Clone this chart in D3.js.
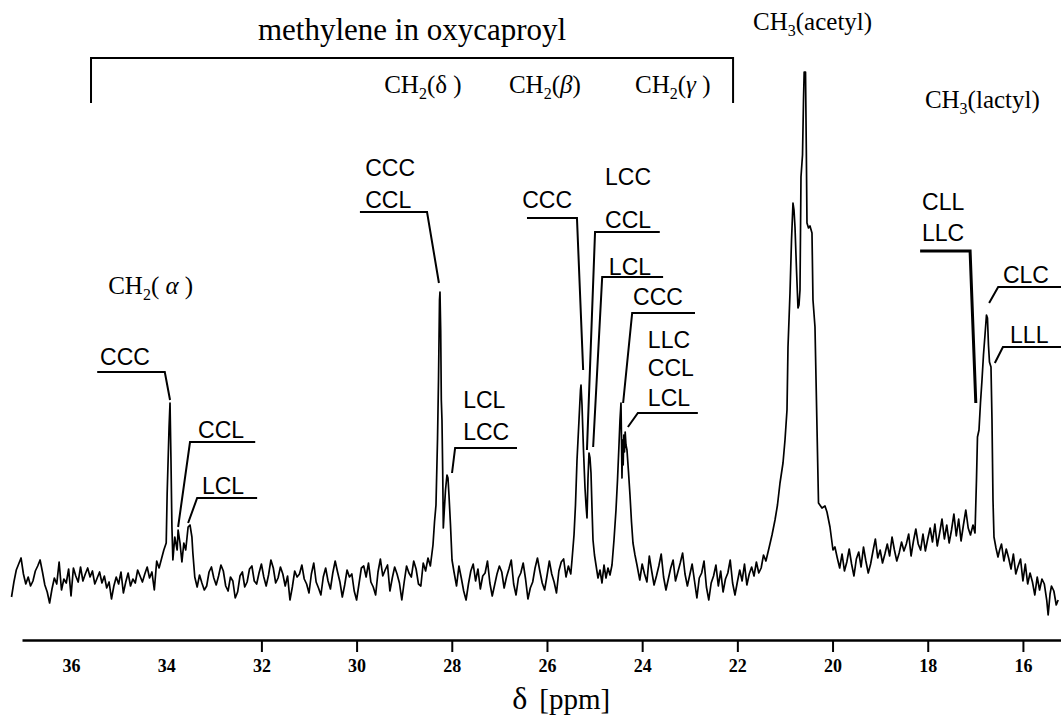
<!DOCTYPE html>
<html>
<head>
<meta charset="utf-8">
<script src="https://cdn.jsdelivr.net/npm/d3@7"></script>
<style>
  body { margin: 0; background: #fff; }
  svg { display: block; }
</style>
</head>
<body>
<svg id="chart" width="1061" height="718"></svg>
<script>
// tick labels on the shift axis (36 and 34 carry no tick mark in the source)
var tickValues = [36, 34, 32, 30, 28, 26, 24, 22, 20, 18, 16];
var tickMarks = [32, 30, 28, 26, 24, 22, 20, 18, 16];

// 13C spectrum: [shift (ppm), intensity (a.u.)]
var spectrum = [
  [37.25, -17], [37.20, -2], [37.15, 10], [37.10, 16], [37.05, 22], [37.00, 6], [36.95, -4], [36.90, 3],
  [36.85, -6], [36.80, -1], [36.75, 9], [36.70, 14], [36.65, 20], [36.60, 8], [36.55, -5], [36.50, -12],
  [36.45, -23], [36.40, -9], [36.35, 2], [36.30, -4], [36.25, 18], [36.20, -10], [36.15, 1], [36.10, -3],
  [36.05, 11], [36.00, -16], [35.95, 12], [35.90, 4], [35.85, -2], [35.80, 13], [35.75, -1], [35.70, 6],
  [35.65, 12], [35.60, 3], [35.55, 9], [35.50, -4], [35.45, 2], [35.40, 8], [35.35, -3], [35.30, 4],
  [35.25, -8], [35.20, -2], [35.15, -19], [35.10, -6], [35.05, 3], [35.00, -4], [34.95, 8], [34.90, -13],
  [34.85, -2], [34.80, 7], [34.75, -6], [34.70, 1], [34.65, -3], [34.60, 10], [34.55, 4], [34.50, -2],
  [34.45, 6], [34.40, 13], [34.35, 2], [34.30, 8], [34.25, -10], [34.20, 19], [34.15, 12], [34.10, 21],
  [34.05, 30], [34.00, 37],
  // CH2(alpha)
  [33.98, 87], [33.94, 153], [33.92, 177], [33.90, 120], [33.88, 53], [33.86, 20], [33.82, 43], [33.77, 30],
  [33.75, 50], [33.71, 37], [33.67, 18], [33.63, 37], [33.59, 30], [33.54, 53], [33.50, 55], [33.46, 43],
  [33.44, 27], [33.40, 3], [33.35, -7],
  [33.30, 5], [33.25, -3], [33.20, -10], [33.15, -6], [33.10, 8], [33.05, 13], [33.00, 2], [32.95, -5],
  [32.90, 4], [32.85, 15], [32.80, 9], [32.75, -6], [32.70, -11], [32.65, 3], [32.60, -1], [32.55, -18],
  [32.50, -12], [32.45, 4], [32.40, 8], [32.35, -7], [32.30, -2], [32.25, 11], [32.20, 14], [32.15, -1],
  [32.10, -4], [32.05, 7], [32.00, 16], [31.95, 3], [31.90, -6], [31.85, 5], [31.80, 20], [31.75, 12],
  [31.70, -3], [31.65, 2], [31.60, 13], [31.55, 6], [31.50, -6], [31.45, 4], [31.40, -20], [31.35, -7],
  [31.30, 9], [31.25, 3], [31.20, 6], [31.15, 15], [31.10, 1], [31.05, -4], [31.00, -13], [30.95, 6],
  [30.90, 17], [30.85, -2], [30.80, -8], [30.75, -15], [30.70, 3], [30.65, 12], [30.60, -1], [30.55, -9],
  [30.50, 7], [30.45, 19], [30.40, 8], [30.35, -2], [30.30, -17], [30.25, -5], [30.20, 10], [30.15, 3],
  [30.10, 6], [30.05, -11], [30.00, -20], [29.95, -4], [29.90, 12], [29.85, 14], [29.80, 3], [29.75, 17],
  [29.70, -2], [29.65, -7], [29.60, -15], [29.55, 8], [29.50, 21], [29.45, 4], [29.40, 10], [29.35, 15],
  [29.30, -11], [29.25, 2], [29.20, 13], [29.15, 6], [29.10, -3], [29.05, -20], [29.00, -2], [28.95, 14],
  [28.90, 7], [28.85, 3], [28.80, 19], [28.75, 11], [28.70, -4], [28.65, -6], [28.60, 17], [28.55, 9],
  [28.50, 22], [28.45, 14],
  // CH2(delta)
  [28.395, 35], [28.363, 58], [28.332, 75], [28.300, 140], [28.279, 200], [28.258, 280], [28.248, 288],
  [28.233, 250], [28.220, 180], [28.206, 160], [28.191, 110], [28.178, 52], [28.157, 70], [28.132, 90],
  [28.101, 105], [28.080, 102], [28.059, 85], [28.027, 55], [27.995, 20], [27.953, 8],
  [27.90, -6], [27.85, 14], [27.80, 2], [27.75, -11], [27.70, -20], [27.65, -4], [27.60, 9], [27.55, 16],
  [27.50, -1], [27.45, 11], [27.40, -9], [27.35, 4], [27.30, 7], [27.25, 19], [27.20, -3], [27.15, -16],
  [27.10, -5], [27.05, 6], [27.00, 14], [26.95, 8], [26.90, -8], [26.85, 3], [26.80, 11], [26.75, 20],
  [26.70, -4], [26.65, -15], [26.60, 2], [26.55, 7], [26.50, 17], [26.45, 1], [26.40, -19], [26.35, -8],
  [26.30, -2], [26.25, 12], [26.20, 22], [26.15, 9], [26.10, -3], [26.05, -10], [26.00, 4], [25.95, 19],
  [25.90, 6], [25.85, -2], [25.80, -13], [25.75, 9], [25.70, 18], [25.65, 21], [25.60, 3], [25.55, 14],
  [25.50, 6],
  // CH2(beta)
  [25.474, 20], [25.432, 45], [25.401, 75], [25.369, 120], [25.327, 160], [25.296, 190], [25.285, 195],
  [25.264, 175], [25.233, 130], [25.201, 92], [25.180, 75], [25.159, 62], [25.138, 102], [25.117, 127],
  [25.096, 122], [25.075, 107], [25.054, 72], [25.033, 40], [25.002, 25], [24.970, 15], [24.928, 2],
  [24.886, 10], [24.844, -3], [24.802, 15], [24.760, 2], [24.718, 12], [24.676, 5],
  // CH2(gamma)
  [24.634, 15], [24.592, 40], [24.550, 70], [24.518, 100], [24.487, 135], [24.466, 160], [24.445, 177],
  [24.434, 140], [24.424, 102], [24.411, 140], [24.399, 115], [24.386, 145], [24.371, 128], [24.357, 148],
  [24.340, 135], [24.319, 130], [24.287, 108], [24.256, 85], [24.224, 58], [24.193, 37], [24.151, 25],
  [24.109, 15],
  [24.05, 0], [24.00, 16], [23.95, 6], [23.90, -2], [23.85, 24], [23.80, 9], [23.75, -5], [23.70, 4],
  [23.65, 14], [23.60, 26], [23.55, 3], [23.50, -10], [23.45, 1], [23.40, 12], [23.35, 20], [23.30, -1],
  [23.25, 8], [23.20, 17], [23.15, 27], [23.10, 6], [23.05, -6], [23.00, 5], [22.95, 16], [22.90, -1],
  [22.85, -18], [22.80, 2], [22.75, 7], [22.70, 19], [22.65, -7], [22.60, -20], [22.55, -3], [22.50, 4],
  [22.45, 15], [22.40, -6], [22.35, 9], [22.30, -12], [22.25, 1], [22.20, 7], [22.15, 20], [22.10, -3],
  [22.05, -15], [22.00, -2], [21.95, 10], [21.90, -1], [21.85, 16], [21.80, -5], [21.75, 6], [21.70, 13],
  [21.65, 4], [21.60, 18], [21.55, 7], [21.50, 12], [21.45, 25], [21.40, 19],
  // CH3(acetyl)
  [21.335, 32], [21.272, 45], [21.209, 60], [21.157, 75], [21.104, 97], [21.041, 117], [20.999, 140],
  [20.957, 170], [20.936, 233], [20.894, 287], [20.862, 340], [20.831, 377], [20.810, 370], [20.789, 353],
  [20.757, 310], [20.726, 272], [20.705, 275], [20.684, 290], [20.663, 403], [20.631, 425], [20.610, 480],
  [20.596, 508], [20.568, 508], [20.551, 430], [20.537, 357], [20.505, 352], [20.474, 354], [20.432, 347],
  [20.411, 280], [20.369, 253], [20.327, 153], [20.295, 77], [20.222, 72], [20.159, 74], [20.117, 68],
  [20.054, 53], [19.991, 30],
  [19.95, 33], [19.90, 22], [19.85, 12], [19.80, 26], [19.75, 9], [19.70, 18], [19.65, 31], [19.60, 16],
  [19.55, 4], [19.50, 21], [19.45, 28], [19.40, 13], [19.35, 33], [19.30, 19], [19.25, 7], [19.20, 16],
  [19.15, 29], [19.10, 41], [19.05, 22], [19.00, 30], [18.95, 17], [18.90, 26], [18.85, 36], [18.80, 24],
  [18.75, 43], [18.70, 30], [18.65, 19], [18.60, 27], [18.55, 38], [18.50, 29], [18.45, 36], [18.40, 46],
  [18.35, 24], [18.30, 39], [18.25, 51], [18.20, 36], [18.15, 30], [18.10, 46], [18.05, 29], [18.00, 41],
  [17.95, 52], [17.90, 38], [17.85, 56], [17.80, 34], [17.75, 47], [17.70, 61], [17.65, 41], [17.60, 55],
  [17.55, 37], [17.50, 50], [17.45, 66], [17.40, 44], [17.35, 61], [17.30, 39], [17.25, 55], [17.20, 70],
  [17.15, 52],
  // CH3(lactyl)
  [17.102, 45], [17.049, 55], [17.007, 47], [16.976, 100], [16.955, 143], [16.923, 150], [16.892, 177],
  [16.860, 200], [16.829, 225], [16.797, 245], [16.766, 265], [16.745, 262], [16.724, 235], [16.703, 218],
  [16.671, 213], [16.650, 160], [16.629, 80], [16.608, 43], [16.566, 32], [16.524, 23],
  [16.49, 30], [16.45, 36], [16.40, 19], [16.35, 31], [16.30, 22], [16.25, 11], [16.20, 26], [16.15, 6],
  [16.10, 14], [16.05, 21], [16.00, -1], [15.95, 16], [15.90, -4], [15.85, 7], [15.80, -2], [15.75, -15],
  [15.70, 3], [15.65, -10], [15.60, 1], [15.55, -4], [15.50, -20], [15.47, -35], [15.43, -14], [15.40, -6],
  [15.35, -11], [15.30, -25], [15.26, -20]
];

// triad assignments: text rows [label, baseline level], leader from..to at level, then a kink to the peak tip
var annotations = [
  { rows: [['CCC', 215]], textAt: 35.39, from: 35.45, to: 34.03, level: 208, tip: [33.92, 180], kink: 'to' },
  { rows: [['CCL', 142]], textAt: 33.33, from: 33.50, to: 32.13, level: 138, tip: [33.75, 53], kink: 'from' },
  { rows: [['LCL', 86]], textAt: 33.25, from: 33.35, to: 32.09, level: 82, tip: [33.54, 57], kink: 'from' },
  { rows: [['CCC', 404], ['CCL', 372]], textAt: 29.82, from: 29.93, to: 28.52, level: 368, tip: [28.27, 297], kink: 'to' },
  { rows: [['LCL', 172], ['LCC', 140]], textAt: 27.76, from: 27.93, to: 26.63, level: 132, tip: [27.995, 107], kink: 'from' },
  { rows: [['CCC', 372]], textAt: 26.52, from: 26.42, to: 25.37, level: 362, tip: [25.24, 210], kink: 'to' },
  { rows: [['LCC', 395], ['CCL', 352]], textAt: 24.78, from: 24.99, to: 23.63, level: 348, tip: [25.16, 130], kink: 'from' },
  { rows: [['LCL', 305]], textAt: 24.70, from: 24.84, to: 23.56, level: 303, tip: [25.03, 133], kink: 'from' },
  { rows: [['CCC', 275]], textAt: 24.19, from: 24.21, to: 22.89, level: 267, tip: [24.40, 177], kink: 'from' },
  { rows: [['LLC', 232], ['CCL', 204], ['LCL', 174]], textAt: 23.88, from: 24.09, to: 22.83, level: 167, tip: [24.30, 153], kink: 'from' },
  { rows: [['CLL', 370], ['LLC', 339]], textAt: 18.12, from: 18.16, to: 17.11, level: 329, tip: [16.99, 177], kink: 'to', heavy: true },
  { rows: [['CLC', 297]], textAt: 16.42, from: 16.52, to: 15.2, level: 293, tip: [16.71, 277], kink: 'from' },
  { rows: [['LLL', 237]], textAt: 16.27, from: 16.42, to: 15.2, level: 233, tip: [16.59, 217], kink: 'from' }
];

// carbon group labels: [text, kind] parts, anchored at [shift, level]
var groupLabels = [
  { parts: [['CH', ''], ['2', 'sub'], ['( ', ''], ['\u03b1', 'it'], [' )', '']], at: [35.22, 286] },
  { parts: [['CH', ''], ['2', 'sub'], ['(', ''], ['\u03b4', ''], [' )', '']], at: [29.42, 487] },
  { parts: [['CH', ''], ['2', 'sub'], ['(', ''], ['\u03b2', 'it'], [')', '']], at: [26.80, 487] },
  { parts: [['CH', ''], ['2', 'sub'], ['(', ''], ['\u03b3', 'it'], [' )', '']], at: [24.15, 487] },
  { parts: [['CH', ''], ['3', 'sub'], ['(acetyl)', '']], at: [21.67, 550] },
  { parts: [['CH', ''], ['3', 'sub'], ['(lactyl)', '']], at: [18.06, 472] }
];
var bracket = { from: 35.58, to: 22.09, top: 522, bottom: 477, title: 'methylene in oxycaproyl', titleLevel: 540 };

var width = 1061, height = 718, axisY = 640;
var serif = '"Liberation Serif", "Times New Roman", serif';
var sans = '"Liberation Sans", Arial, sans-serif';

var x = d3.scaleLinear().domain([37.03, 15.2]).range([22, 1061]);
var y = d3.scaleLinear().domain([0, 508]).range([580, 72]);

var svg = d3.select('#chart');
svg.append('rect').attr('width', width).attr('height', height).attr('fill', '#fff');

var line = d3.line()
  .x(function (d) { return x(d[0]) })
  .y(function (d) { return y(d[1]) });

// spectrum trace
svg.append('path')
  .datum(spectrum)
  .attr('d', line)
  .attr('fill', 'none')
  .attr('stroke', '#000')
  .attr('stroke-width', 1.7)
  .attr('stroke-linejoin', 'round');

// shift axis
var axis = d3.axisBottom(x)
  .tickValues(tickValues)
  .tickSize(12)
  .tickSizeOuter(0)
  .tickPadding(7)
  .tickFormat(d3.format('d'));

var gAxis = svg.append('g')
  .attr('transform', 'translate(0,' + axisY + ')')
  .call(axis);

gAxis.select('.domain').attr('stroke', '#000').attr('stroke-width', 2.5);
gAxis.selectAll('.tick line')
  .attr('stroke', '#000')
  .attr('stroke-width', 2)
  .attr('display', function (d) { return tickMarks.indexOf(d) < 0 ? 'none' : null });
gAxis.selectAll('.tick text')
  .attr('fill', '#000')
  .attr('font-family', serif)
  .attr('font-size', 18)
  .attr('font-weight', 'bold');

var xTitle = svg.append('text')
  .attr('x', x(26.73))
  .attr('y', 709)
  .attr('font-family', serif)
  .attr('fill', '#000');
xTitle.append('tspan').attr('font-size', 32).text('\u03b4');
xTitle.append('tspan').attr('font-size', 29).attr('dx', 12).text('[ppm]');

// triad leaders and labels
annotations.forEach(function (a) {
  var pts = a.kink === 'to'
    ? [[a.from, a.level], [a.to, a.level], a.tip]
    : [a.tip, [a.from, a.level], [a.to, a.level]];
  svg.append('path')
    .attr('d', line(pts))
    .attr('fill', 'none')
    .attr('stroke', '#000')
    .attr('stroke-width', a.heavy ? 3 : 2);

  a.rows.forEach(function (r) {
    svg.append('text')
      .attr('x', x(a.textAt))
      .attr('y', y(r[1]))
      .attr('font-family', sans)
      .attr('font-size', 23)
      .attr('fill', '#000')
      .text(r[0]);
  });
});

// group labels with subscripts
groupLabels.forEach(function (g) {
  var t = svg.append('text')
    .attr('x', x(g.at[0]))
    .attr('y', y(g.at[1]))
    .attr('font-family', serif)
    .attr('font-size', 25)
    .attr('fill', '#000')
    .attr('xml:space', 'preserve');
  var shift = 0;
  g.parts.forEach(function (p) {
    var s = t.append('tspan').text(p[0]);
    var want = p[1] === 'sub' ? 6 : 0;
    if (p[1] === 'sub') s.attr('font-size', 16);
    if (p[1] === 'it') s.attr('font-style', 'italic');
    s.attr('dy', want - shift);
    shift = want;
  });
});

// bracket over the methylene region
svg.append('path')
  .attr('d', line([[bracket.from, bracket.bottom], [bracket.from, bracket.top],
                   [bracket.to, bracket.top], [bracket.to, bracket.bottom]]))
  .attr('fill', 'none')
  .attr('stroke', '#000')
  .attr('stroke-width', 2);

svg.append('text')
  .attr('x', (x(bracket.from) + x(bracket.to)) / 2)
  .attr('y', y(bracket.titleLevel))
  .attr('text-anchor', 'middle')
  .attr('font-family', serif)
  .attr('font-size', 31)
  .attr('fill', '#000')
  .text(bracket.title);
</script>
</body>
</html>
